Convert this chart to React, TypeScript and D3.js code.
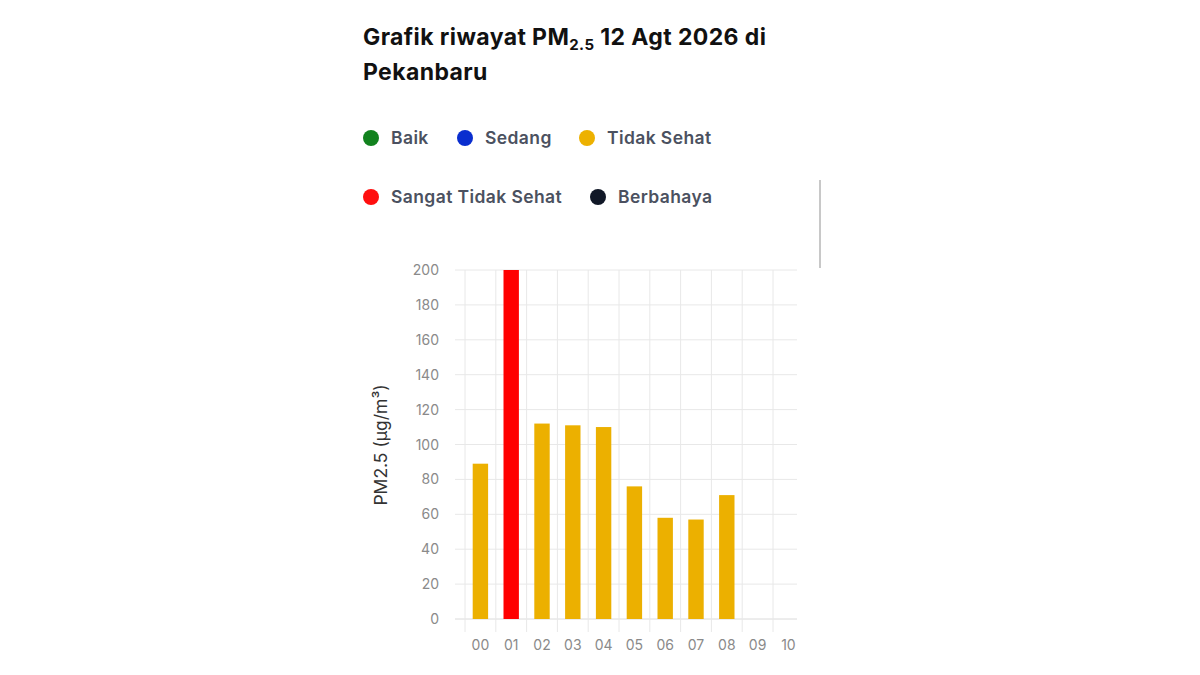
import * as d3 from 'd3';

const hours = ['00', '01', '02', '03', '04', '05', '06', '07', '08', '09', '10'];
const pm25: (number | null)[] = [89, 200, 112, 111, 110, 76, 58, 57, 71, null, null];
const barColors = ['#ECB000', '#FF0000', '#ECB000', '#ECB000', '#ECB000', '#ECB000', '#ECB000', '#ECB000', '#ECB000', null, null];
const yTicks = [0, 20, 40, 60, 80, 100, 120, 140, 160, 180, 200];

const legendRow1 = [
  { label: 'Baik', color: '#12821E', x: 371 },
  { label: 'Sedang', color: '#0A2ECF', x: 465 },
  { label: 'Tidak Sehat', color: '#EDB100', x: 587 },
];
const legendRow2 = [
  { label: 'Sangat Tidak Sehat', color: '#FF0F0F', x: 371 },
  { label: 'Berbahaya', color: '#111827', x: 598 },
];

export default function App() {
  const left = 465;
  const right = 797;
  const top = 270;
  const bottom = 619;

  const x = d3.scaleBand().domain(hours).range([left, left + 30.8 * hours.length]).padding(0);
  const y = d3.scaleLinear().domain([0, 200]).range([bottom, top]);
  const bw = x.bandwidth();
  const font = "Inter, 'Noto Sans', sans-serif";

  return (
    <svg
      width={1200}
      height={675}
      style={{ position: 'absolute', left: 0, top: 0, background: '#fff' }}
      fontFamily={font}
    >
      <defs>
        <clipPath id="plotClip">
          <rect x={0} y={0} width={right} height={675} />
        </clipPath>
      </defs>

      {/* title */}
      <text x={363} y={45} fontSize={23} fontWeight={700} fill="#111" letterSpacing={0.4}>
        Grafik riwayat PM
        <tspan fontSize={15} dy={5}>2.5</tspan>
        <tspan dy={-5}> 12 Agt 2026 di</tspan>
      </text>
      <text x={363} y={80} fontSize={23} fontWeight={700} fill="#111" letterSpacing={0.4}>
        Pekanbaru
      </text>

      {/* legend */}
      {[legendRow1, legendRow2].map((row, r) =>
        row.map((item) => (
          <g key={item.label} transform={`translate(${item.x}, ${r === 0 ? 138 : 197})`}>
            <circle r={8} fill={item.color} />
            <text x={20} y={6} fontSize={17.5} fontWeight={600} fill="#4B5160" letterSpacing={0.4}>
              {item.label}
            </text>
          </g>
        ))
      )}

      {/* scrollbar */}
      <line x1={820} x2={820} y1={180} y2={268} stroke="#C8C8C8" strokeWidth={2} />

      <g clipPath="url(#plotClip)">
        {/* horizontal grid */}
        {yTicks.map((t) => (
          <line key={t} x1={455} x2={right} y1={y(t)} y2={y(t)} stroke={t === 0 ? '#DADADA' : '#E8E8E8'} />
        ))}
        {/* vertical grid */}
        {hours.map((h) => (
          <line key={h} x1={x(h)!} x2={x(h)!} y1={top} y2={632} stroke="#E8E8E8" />
        ))}
        {/* bars */}
        {hours.map((h, i) =>
          pm25[i] == null ? null : (
            <rect
              key={h}
              x={x(h)! + bw * 0.25}
              y={y(pm25[i]!)}
              width={bw * 0.5}
              height={bottom - y(pm25[i]!)}
              fill={barColors[i]!}
            />
          )
        )}
        {/* x labels */}
        {hours.map((h) => (
          <text key={h} x={x(h)! + bw / 2} y={650} textAnchor="middle" fontSize={14} fill="#8A8A8A">
            {h}
          </text>
        ))}
      </g>

      {/* y labels */}
      {yTicks.map((t) => (
        <text key={t} x={439} y={y(t) + 5} textAnchor="end" fontSize={14} fill="#8A8A8A">
          {t}
        </text>
      ))}

      <text
        transform="translate(387, 445) rotate(-90)"
        textAnchor="middle"
        fontSize={17.5}
        fill="#333"
      >
        PM2.5 (µg/m³)
      </text>
    </svg>
  );
}
